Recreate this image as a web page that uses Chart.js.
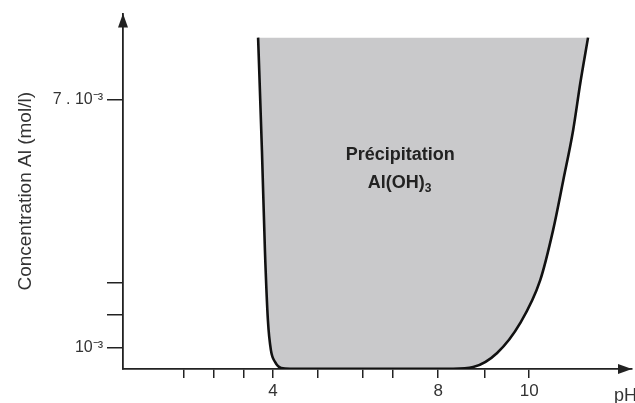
<!DOCTYPE html>
<html>
<head>
<meta charset="utf-8">
<script src="https://cdn.jsdelivr.net/npm/chart.js@4/dist/chart.umd.min.js"></script>
<style>
  html, body { margin: 0; padding: 0; background: #fff; }
  #wrap { width: 635px; height: 403px; }
</style>
</head>
<body>
<div id="wrap"><canvas id="chart1"></canvas></div>
<script>
// boundary of the precipitation zone (pH, concentration in 10^-3 mol/l)
const phValues = [3.65, 3.74, 3.81, 3.88, 3.95, 4.05, 4.19, 4.4, 6.0, 8.22, 8.69, 9.25, 9.79, 10.26, 10.56, 10.8, 11.03, 11.2, 11.38]
const concValues = [8.49, 5.77, 3.36, 1.67, 0.95, 0.66, 0.52, 0.5, 0.5, 0.5, 0.54, 0.88, 1.6, 2.64, 3.84, 5.05, 6.25, 7.4, 8.49]
const zoneTop = 8.49

const xTickValues = [1.9, 2.6, 3.32, 4, 5.05, 6.11, 6.81, 7.87, 8.95, 10]
const xTickLabels = ['', '', '', '4', '', '', '', '8', '', '10']
const yTickValues = [1, 1.8, 2.57, 7]
const yTickLabels = ['10⁻³', '', '', '7 . 10⁻³']

const zoneLabel = ['Précipitation', 'Al(OH)']
const zoneLabelAt = {x: 6.98, y: [5.65, 4.98]}

const ink = '#222'
const font = 'Arial, "Liberation Sans", sans-serif'

const axesArrows = {
    id: 'axesArrows',
    afterDraw(chart) {
        const {ctx, chartArea} = chart
        const x = chart.scales.x, y = chart.scales.y
        const x0 = x.left, y0 = y.bottom
        ctx.save()
        ctx.fillStyle = ink
        // y arrow
        ctx.beginPath()
        ctx.moveTo(x0, chartArea.top)
        ctx.lineTo(x0 - 5, chartArea.top + 14)
        ctx.lineTo(x0 + 5, chartArea.top + 14)
        ctx.closePath()
        ctx.fill()
        // x arrow
        ctx.beginPath()
        ctx.moveTo(chartArea.right, y0)
        ctx.lineTo(chartArea.right - 14, y0 - 5)
        ctx.lineTo(chartArea.right - 14, y0 + 5)
        ctx.closePath()
        ctx.fill()

        // pH label
        ctx.fillStyle = '#333'
        ctx.font = '18px ' + font
        ctx.textAlign = 'right'
        ctx.textBaseline = 'middle'
        ctx.fillText('pH', chart.width + 2, 396)

        // zone label
        const cx = x.getPixelForValue(zoneLabelAt.x)
        ctx.fillStyle = ink
        ctx.font = 'bold 18px ' + font
        ctx.textAlign = 'center'
        ctx.fillText(zoneLabel[0], cx, y.getPixelForValue(zoneLabelAt.y[0]))
        const w = ctx.measureText(zoneLabel[1]).width
        const ly = y.getPixelForValue(zoneLabelAt.y[1])
        ctx.fillText(zoneLabel[1], cx - 4, ly)
        ctx.font = 'bold 12px ' + font
        ctx.textAlign = 'left'
        ctx.fillText('3', cx - 4 + w / 2, ly + 6)
        ctx.restore()
    }
}

var chart1 = document.getElementById('chart1').getContext('2d')
new Chart(chart1, {
    type: 'line',
    data: {
        datasets: [{
            data: phValues.map((p, i) => ({x: p, y: concValues[i]})),
            borderColor: '#111',
            borderWidth: 2.6,
            backgroundColor: '#c9c9cb',
            fill: {value: zoneTop},
            pointRadius: 0,
            cubicInterpolationMode: 'monotone'
        }]
    },
    options: {
        responsive: true,
        maintainAspectRatio: false,
        animation: false,
        layout: {padding: {top: 13, right: 3, left: 0, bottom: 0}},
        plugins: {legend: {display: false}, tooltip: {enabled: false}},
        scales: {
            x: {
                type: 'linear',
                min: 0.485,
                max: 12.41,
                afterBuildTicks: s => { s.ticks = xTickValues.map(v => ({value: v})) },
                afterFit: s => { s.height = 34 },
                border: {display: true, color: ink, width: 1.8},
                grid: {drawOnChartArea: false, drawTicks: true, tickLength: 9, color: ink, lineWidth: 1.5},
                ticks: {
                    autoSkip: false, maxRotation: 0, padding: 3,
                    color: '#333', font: {size: 17, family: font},
                    callback: (v, i) => xTickLabels[i]
                }
            },
            y: {
                type: 'linear',
                min: 0.494,
                max: 9.07,
                afterBuildTicks: s => { s.ticks = yTickValues.map(v => ({value: v})) },
                afterFit: s => { s.width = 123 },
                border: {display: true, color: ink, width: 1.8},
                grid: {drawOnChartArea: false, drawTicks: true, tickLength: 16, color: ink, lineWidth: 1.5},
                ticks: {
                    autoSkip: false, padding: 4,
                    color: '#333', font: {size: 16, family: font},
                    callback: (v, i) => yTickLabels[i]
                },
                title: {
                    display: true, text: 'Concentration Al (mol/l)',
                    color: '#333', font: {size: 19, family: font}, padding: {top: 14, bottom: 0}
                }
            }
        }
    },
    plugins: [axesArrows]
})
</script>
</body>
</html>
